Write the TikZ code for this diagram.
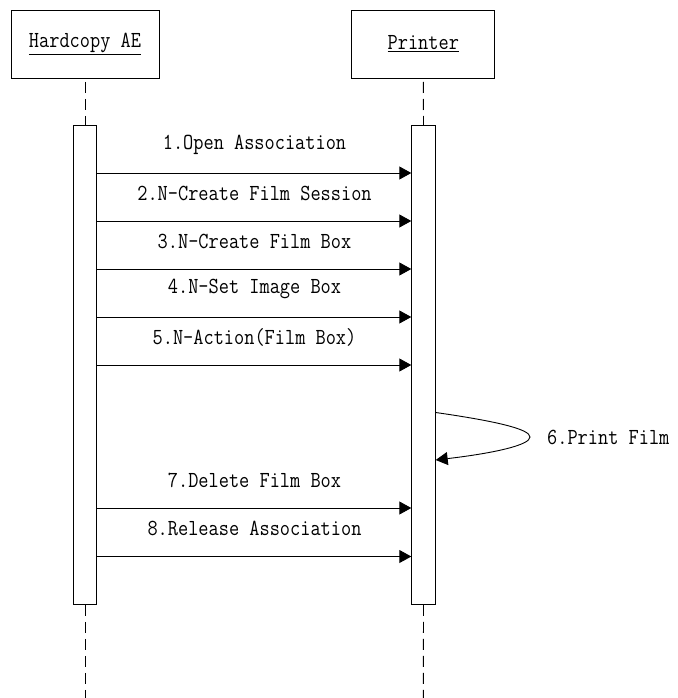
\documentclass[tikz,border=0pt]{standalone}
\usepackage{fontspec}
\setmonofont{Latin Modern Mono}[FakeStretch=0.86]
\usetikzlibrary{arrows.meta}
\begin{document}
\begin{tikzpicture}[x=1pt,y=-1pt,
  every node/.style={font=\ttfamily\fontsize{23}{27}\selectfont},
  actor/.style={draw,line width=0.9pt,minimum height=68pt,inner sep=0pt},
  actbox/.style={draw,line width=0.9pt,fill=white,minimum width=23.5pt,minimum height=479pt,inner sep=0pt},
  life/.style={line width=0.9pt,dash pattern=on 11pt off 6pt},
  msg/.style={line width=0.9pt,-{Triangle[length=12pt,width=13pt]}},
  lbl/.style={inner sep=0pt,anchor=center}]
\useasboundingbox (0,0) rectangle (677,698);
\node[actor,minimum width=148pt] (hc) at (85,44) {\underline{Hardcopy AE}};
\node[actor,minimum width=143pt] (pr) at (423.3,44) {\underline{Printer}};
\node[actbox] (ha) at (85,365) {};
\node[actbox] (pa) at (423.5,365) {};
\coordinate (htop) at (85,82);
\coordinate (ptop) at (423.3,82);
\coordinate (hbot) at (85,698);
\coordinate (pbot) at (423.3,698);
\draw[life] (htop) -- (ha.north);
\draw[life] (ptop) -- (pa.north);
\draw[life] (ha.south) -- (hbot);
\draw[life] (pa.south) -- (pbot);
% messages
\foreach \y/\t [count=\i] in {173/{1.Open Association},221/{2.N-Create Film Session},269/{3.N-Create Film Box},317/{4.N-Set Image Box},365/{5.N-Action(Film Box)},508/{7.Delete Film Box},556.5/{8.Release Association}}{
  \coordinate (s\i) at (ha.east |- 0,\y);
  \coordinate (e\i) at (pa.west |- 0,\y);
  \draw[msg] (s\i) -- (e\i);
  \node[lbl] (l\i) at (254.5,\y-28) {\t};
}
\coordinate (ss) at (pa.east |- 0,412.5);
\coordinate (tip) at (530,437);
\coordinate (se) at (pa.east |- 0,460);
\draw[msg] (ss) .. controls (495,421) and (530,429) .. (tip) .. controls (530,445) and (495,453) .. (se);
\node[lbl,anchor=west] (l6) at (547,437) {6.Print Film};
\end{tikzpicture}
\end{document}
